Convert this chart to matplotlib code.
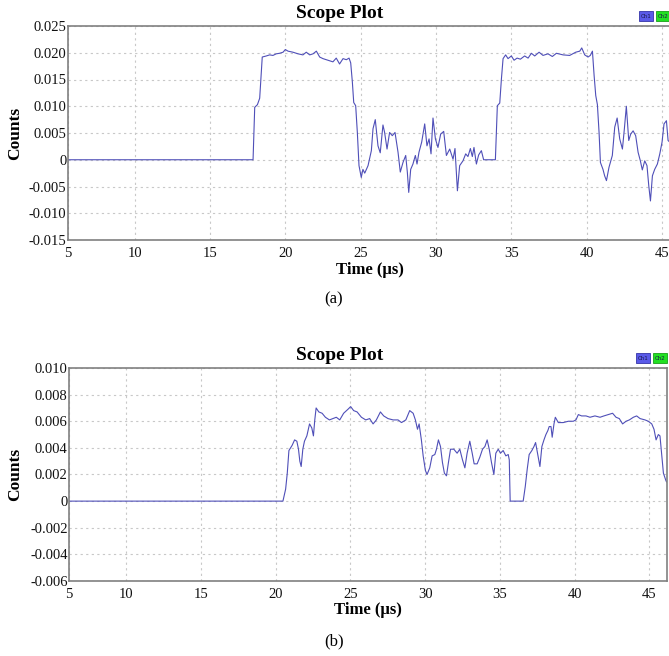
import matplotlib
matplotlib.use("Agg")
import matplotlib.pyplot as plt
import matplotlib.patches as patches
from matplotlib.ticker import FuncFormatter

plt.rcParams['font.family'] = ['Liberation Serif', 'DejaVu Serif']

# ---- panel (a) ----
time_a = [5.58, 17.86, 17.97, 18.15, 18.3, 18.47, 18.74, 18.96, 19.18, 19.4, 19.62, 19.85,
          20.0, 20.18, 20.51, 20.84, 21.17, 21.39, 21.62, 21.84, 22.06, 22.28, 22.5, 22.83,
          23.16, 23.38, 23.6, 23.83, 24.05, 24.23, 24.34, 24.45, 24.54, 24.67, 24.78, 24.89,
          25.04, 25.15, 25.27, 25.49, 25.71, 25.82, 25.97, 26.15, 26.3, 26.48, 26.59, 26.75,
          26.92, 27.1, 27.28, 27.48, 27.63, 27.81, 27.99, 28.1, 28.19, 28.32, 28.47, 28.63,
          28.74, 28.87, 29.05, 29.25, 29.4, 29.54, 29.67, 29.8, 29.96, 30.13, 30.31, 30.51,
          30.69, 30.91, 31.13, 31.26, 31.42, 31.57, 31.79, 31.97, 32.12, 32.28, 32.41, 32.52,
          32.68, 32.83, 33.01, 33.16, 33.94, 34.07, 34.23, 34.34, 34.45, 34.62, 34.78, 35.0,
          35.18, 35.38, 35.6, 35.88, 36.11, 36.33, 36.55, 36.84, 37.1, 37.43, 37.72, 37.99,
          38.43, 38.87, 39.27, 39.54, 39.67, 39.87, 40.09, 40.24, 40.38, 40.49, 40.6, 40.71,
          40.82, 40.91, 41.08, 41.19, 41.31, 41.48, 41.7, 41.86, 42.02, 42.19, 42.37, 42.5,
          42.63, 42.79, 42.92, 43.08, 43.25, 43.41, 43.56, 43.69, 43.85, 44.0, 44.12, 44.23,
          44.36, 44.51, 44.69, 44.85, 45.0, 45.13, 45.29, 45.4, 45.51]
counts_a = [0, 0, 0.0098, 0.0103, 0.0115, 0.0192, 0.0194, 0.0196, 0.0195, 0.0198, 0.0199, 0.0201,
            0.0206, 0.0203, 0.0201, 0.0198, 0.0196, 0.0201, 0.0196, 0.0198, 0.0203, 0.0192, 0.0189, 0.0186,
            0.0183, 0.019, 0.0179, 0.0189, 0.0187, 0.019, 0.0181, 0.0145, 0.0107, 0.0101, 0.0051, -0.0011,
            -0.0033, -0.0018, -0.0025, -0.0011, 0.0017, 0.0058, 0.0075, 0.0026, 0.0013, 0.0065, 0.0051, 0.002,
            0.0051, 0.0045, 0.0051, 0.0014, -0.0023, -0.0005, 0.0008, -0.0024, -0.0061, -0.0018, -0.0008, 0.0008,
            -0.0008, 0.0014, 0.0033, 0.0067, 0.0026, 0.0039, 0.0011, 0.0078, 0.0039, 0.0023, 0.0048, 0.0053,
            0.0008, 0.002, 0.0001, 0.0021, -0.0058, -0.0011, -0.0002, 0.0011, 0.0006, 0.0021, 0.0006, 0.0023,
            -0.0008, 0.0009, 0.0017, 0, 0, 0.0101, 0.0106, 0.0151, 0.0189, 0.0196, 0.0189, 0.0194,
            0.0186, 0.019, 0.0188, 0.0194, 0.019, 0.0199, 0.0194, 0.0201, 0.0195, 0.0198, 0.0193, 0.0199,
            0.0196, 0.0195, 0.0201, 0.0203, 0.0209, 0.0196, 0.0192, 0.0195, 0.0203, 0.0158, 0.012, 0.0103,
            0.0051, -0.0005, -0.0018, -0.003, -0.0039, -0.0014, 0.0008, 0.0061, 0.0078, 0.0039, 0.002, 0.0058,
            0.01, 0.0036, 0.0048, 0.0054, 0.0045, 0.0014, -0.0002, -0.0019, -0.0002, -0.0011, -0.0049, -0.0077,
            -0.003, -0.0018, -0.0008, 0.0011, 0.0033, 0.0067, 0.0073, 0.0036, 0.0033]

# ---- panel (b) ----
time_b = [6.18, 20.49, 20.67, 20.78, 20.89, 21.0, 21.11, 21.27, 21.42, 21.53, 21.62, 21.71,
          21.82, 21.93, 22.09, 22.27, 22.42, 22.53, 22.62, 22.71, 22.89, 23.11, 23.33, 23.6,
          23.84, 24.06, 24.29, 24.55, 24.84, 25.02, 25.22, 25.45, 25.74, 26.03, 26.29, 26.52,
          26.74, 27.01, 27.23, 27.52, 27.86, 28.19, 28.42, 28.71, 28.97, 29.2, 29.35, 29.49,
          29.6, 29.75, 29.87, 30.02, 30.13, 30.31, 30.47, 30.65, 30.76, 30.89, 31.03, 31.16,
          31.29, 31.43, 31.56, 31.7, 31.92, 32.14, 32.32, 32.5, 32.66, 32.81, 32.99, 33.15,
          33.28, 33.48, 33.66, 33.84, 34.0, 34.15, 34.29, 34.44, 34.6, 34.73, 34.89, 35.04,
          35.22, 35.4, 35.56, 35.63, 35.69, 36.56, 36.7, 36.83, 36.96, 37.14, 37.28, 37.39,
          37.52, 37.68, 37.81, 37.95, 38.08, 38.21, 38.3, 38.42, 38.5, 38.62, 38.71, 38.91,
          39.24, 39.58, 39.91, 40.09, 40.25, 40.47, 40.76, 41.03, 41.36, 41.7, 41.96, 42.25,
          42.54, 42.77, 42.99, 43.21, 43.44, 43.66, 43.93, 44.15, 44.38, 44.71, 44.93, 45.16,
          45.31, 45.45, 45.6, 45.71, 45.83, 45.94, 46.12, 46.2]
counts_b = [0, 0, 0.0009, 0.0021, 0.0038, 0.004, 0.0042, 0.0046, 0.0045, 0.0039, 0.003, 0.0026,
            0.0039, 0.0045, 0.0049, 0.0058, 0.0055, 0.0049, 0.0061, 0.007, 0.0067, 0.0066, 0.0063, 0.0061,
            0.0062, 0.0063, 0.0061, 0.0066, 0.0069, 0.0071, 0.0068, 0.0067, 0.0063, 0.0061, 0.0062, 0.0058,
            0.0061, 0.0067, 0.0064, 0.0062, 0.0061, 0.0061, 0.0059, 0.0061, 0.0068, 0.0066, 0.0061, 0.0054,
            0.0058, 0.0046, 0.0034, 0.0023, 0.002, 0.0025, 0.0034, 0.0035, 0.0039, 0.0046, 0.0041, 0.0029,
            0.0021, 0.0019, 0.0029, 0.0039, 0.0039, 0.0036, 0.0039, 0.0031, 0.0025, 0.0036, 0.0045, 0.0036,
            0.0028, 0.0028, 0.0033, 0.0039, 0.0041, 0.0046, 0.0039, 0.0029, 0.002, 0.0036, 0.0039, 0.0036,
            0.0038, 0.0034, 0.0035, 0.0031, 0, 0, 0.0011, 0.0024, 0.0035, 0.0038, 0.0041, 0.0044,
            0.0036, 0.0026, 0.0041, 0.0046, 0.005, 0.0053, 0.0056, 0.0056, 0.0048, 0.0058, 0.0063, 0.0059,
            0.0059, 0.006, 0.006, 0.0061, 0.0065, 0.0064, 0.0064, 0.0063, 0.0064, 0.0063, 0.0064, 0.0065,
            0.0066, 0.0063, 0.0062, 0.0058, 0.006, 0.0061, 0.0063, 0.0064, 0.0062, 0.0061, 0.006, 0.0058,
            0.0054, 0.0046, 0.005, 0.0049, 0.0034, 0.0021, 0.0015, 0.0014]

x_tick_labels = ['5', '10', '15', '20', '25', '30', '35', '40', '45']
yticks_a = [-0.015, -0.010, -0.005, 0, 0.005, 0.010, 0.015, 0.020, 0.025]
yticks_b = [-0.006, -0.004, -0.002, 0, 0.002, 0.004, 0.006, 0.008, 0.010]

W, H = 669, 656
fig = plt.figure(figsize=(W / 100, H / 100), dpi=100)
fig.patch.set_facecolor('white')


def fmt(v, pos):
    return '0' if abs(v) < 1e-12 else f'{v:.3f}'


def panel(box, t, c, xlim, yticks, caption, title_y, xlabel_y, cap_y, legend_y, ch1_x, right_spine):
    left, top, right, bottom = box
    ax = fig.add_axes([left / W, 1 - bottom / H, (right - left) / W, (bottom - top) / H])
    ax.plot(t, c, color='#4f4fb8', lw=0.8)
    ax.set_xlim(*xlim)
    ax.set_ylim(yticks[0], yticks[-1])
    ax.set_xticks([xlim[0], 10, 15, 20, 25, 30, 35, 40, 45])
    ax.set_xticklabels(x_tick_labels)
    ax.set_yticks(yticks)
    ax.yaxis.set_major_formatter(FuncFormatter(fmt))
    ax.tick_params(length=0, labelsize=10.5, pad=1, colors='#111111')
    ax.tick_params(axis='x', pad=5)
    ax.grid(True, color='#c8c8c8', linestyle=(0, (2, 3)), lw=0.8)
    for name, sp in ax.spines.items():
        sp.set_color('#808080')
        sp.set_linewidth(1.2)
    ax.spines['right'].set_visible(right_spine)

    cx = (left + right) / 2
    fig.text(340 / W, 1 - title_y / H, 'Scope Plot', ha='center', va='center',
             fontsize=14, fontweight='bold')
    fig.text(cx / W, 1 - xlabel_y / H, 'Time (μs)', ha='center', va='center',
             fontsize=12, fontweight='bold')
    fig.text(15 / W, 1 - (top + bottom) / 2 / H, 'Counts', ha='center', va='center',
             rotation=90, fontsize=12.5, fontweight='bold')
    fig.text(334 / W, 1 - cap_y / H, caption, ha='center', va='center', fontsize=12)

    # small channel legend boxes
    for i, (lab, fc, ec) in enumerate([('Ch1', '#5a5ae8', '#3434a8'), ('Ch2', '#22e022', '#18a018')]):
        x0 = ch1_x + i * 17
        fig.patches.append(patches.Rectangle((x0 / W, 1 - (legend_y + 5) / H), 14 / W, 10 / H,
                                             transform=fig.transFigure, fc=fc, ec=ec, lw=0.6))
        fig.text((x0 + 7) / W, 1 - legend_y / H, lab, ha='center', va='center',
                 fontsize=4, color='#1a1a4a', family=['DejaVu Sans'])
    return ax


panel((68, 26, 672, 240), time_a, counts_a, (5.58, 45.66), yticks_a, '(a)',
      13, 270, 299, 16, 639, False)
panel((69, 368, 667, 581), time_b, counts_b, (6.18, 46.18), yticks_b, '(b)',
      355, 610, 641, 358, 636, True)

fig.savefig('out.png', dpi=100)
